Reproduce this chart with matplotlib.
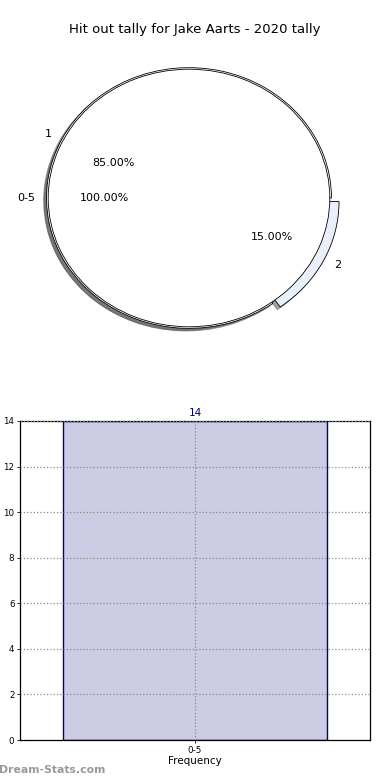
import matplotlib
matplotlib.use("Agg")
import matplotlib.pyplot as plt

# Data
title = "Hit out tally for Jake Aarts - 2020 tally"
outer_labels = ["1", "2"]
outer_values = [85, 15]
inner_labels = ["0-5"]
inner_values = [100]
bar_categories = ["0-5"]
bar_values = [14]
y_ticks = [0, 2, 4, 6, 8, 10, 12, 14]

fig = plt.figure(figsize=(3.9, 7.8), dpi=100)

W, H = 390, 780
def rect(l, t, r, b):
    return [l / W, 1 - b / H, (r - l) / W, (b - t) / H]

# Pie axes
axp = fig.add_axes(rect(13, 37, 365, 359))
axp.pie(outer_values, labels=outer_labels, radius=1.012, startangle=0,
        explode=[0, 0.06], colors=["white", "#eaf0fb"], autopct="%.2f%%",
        pctdistance=0.6 / 1.012, labeldistance=1.08,
        shadow=dict(ox=-0.015, oy=-0.015),
        wedgeprops=dict(width=0.08, edgecolor="black", linewidth=0.6),
        textprops=dict(fontsize=8))
axp.pie(inner_values, labels=inner_labels, radius=1.0, startangle=0,
        colors=["white"], autopct="%.2f%%", pctdistance=0.6,
        labeldistance=1.09, shadow=True,
        wedgeprops=dict(edgecolor="black", linewidth=0.6),
        textprops=dict(fontsize=8))
axp.set_aspect("auto")
axp.set_xlim(-1.25, 1.25)
axp.set_ylim(-1.25, 1.25)
fig.text(0.5, 1 - 30 / H, title, ha="center", va="center", fontsize=9.5)

# Bar axes
axb = fig.add_axes(rect(20, 421, 370, 740))
bars = axb.bar(bar_categories, bar_values, width=0.754, color="navy", alpha=0.2)
axb.bar(bar_categories, bar_values, width=0.754, facecolor="none",
        edgecolor="navy", linewidth=1)
axb.set_xlim(-0.5, 0.5)
axb.set_ylim(0, 14)
axb.set_yticks(y_ticks)
axb.tick_params(axis="both", labelsize=6.3, length=2.5, width=0.6, pad=1.5)
axb.grid(True, linestyle=":", color="#888888", linewidth=0.9)
axb.set_axisbelow(False)
for b, v in zip(bars, bar_values):
    axb.text(b.get_x() + b.get_width() / 2, v + 0.15, str(v), ha="center",
             va="bottom", color="navy", fontsize=7.5)
axb.set_xlabel("Frequency", fontsize=7.5, labelpad=1)
axb.set_ylabel("Hit Out Tally", fontsize=7.5)
axb.yaxis.set_label_coords(-0.068, 0.5)
for s in axb.spines.values():
    s.set_linewidth(0.9)

fig.text(-0.002, 1 - 770 / H, "Dream-Stats.com", ha="left", va="center",
         fontsize=7.8, color="#999999", fontweight="bold")

fig.savefig("out.png", dpi=100)
